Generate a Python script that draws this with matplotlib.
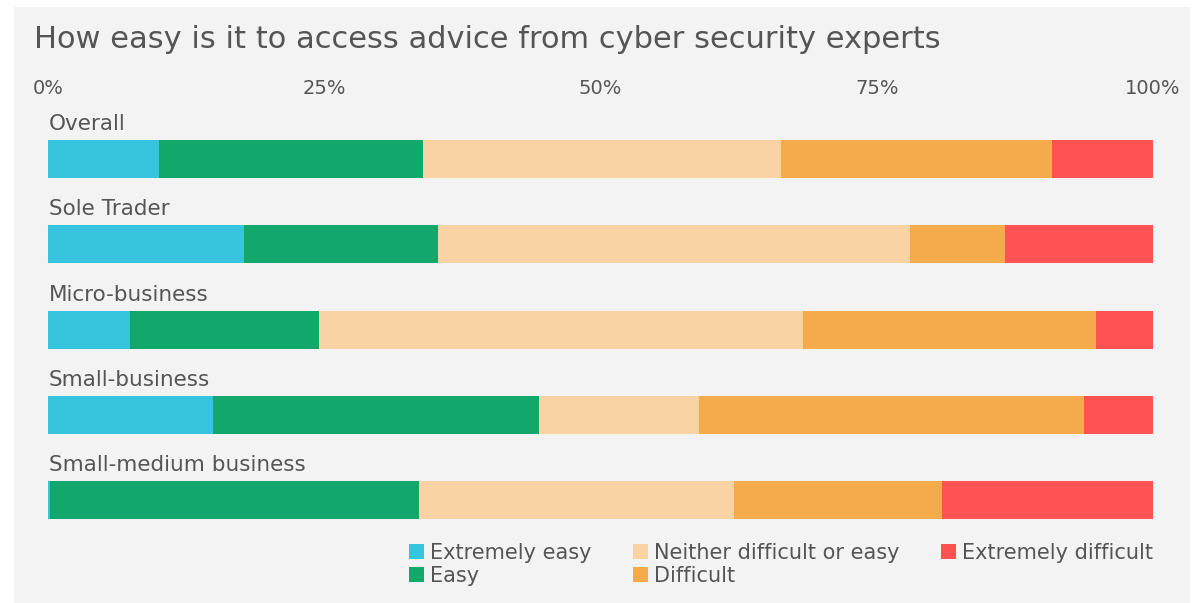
import matplotlib
matplotlib.use("Agg")
import matplotlib.pyplot as plt
from matplotlib.patches import Rectangle

plt.rcParams['font.family'] = ['DejaVu Sans']

# Data
groups = ["Overall", "Sole Trader", "Micro-business", "Small-business", "Small-medium business"]
series = ["Extremely easy", "Easy", "Neither difficult or easy", "Difficult", "Extremely difficult"]
extremely_easy = [10.0, 17.7, 7.4, 14.9, 0.2]
easy = [23.9, 17.6, 17.1, 29.5, 33.4]
neither = [32.4, 42.7, 43.8, 14.5, 28.5]
difficult = [24.6, 8.6, 26.5, 34.9, 18.8]
extremely_difficult = [9.1, 13.4, 5.2, 6.2, 19.1]
colors = ["#36c5dc", "#13a86b", "#fad3a4", "#f5ab4c", "#fe5151"]
ticks = [0, 25, 50, 75, 100]
tick_labels = ["0%", "25%", "50%", "75%", "100%"]

text_color = "#555555"

fig = plt.figure(figsize=(11.98, 6.03), dpi=100)
fig.patch.set_facecolor("white")
fig.patches.append(Rectangle((14 / 1198, 0), 1176 / 1198, 596 / 603,
                             transform=fig.transFigure, facecolor="#f3f3f3",
                             edgecolor="none", zorder=-10))

ax = fig.add_axes([48 / 1198, 0.100, 1105 / 1198, 0.707])
ax.set_facecolor("none")

values = [extremely_easy, easy, neither, difficult, extremely_difficult]
bar_h = 0.445
left = [0] * len(groups)
for name, vals, c in zip(series, values, colors):
    ax.barh(range(len(groups)), vals, left=left, height=bar_h, color=c, label=name)
    left = [l + v for l, v in zip(left, vals)]

for i, g in enumerate(groups):
    ax.text(0.1, i - bar_h / 2 - 0.07, g, fontsize=15.5, color=text_color,
            ha="left", va="bottom")

ax.set_xlim(0, 100)
ax.set_ylim(4.5, -0.5)
ax.set_yticks([])
ax.xaxis.tick_top()
ax.set_xticks(ticks)
ax.set_xticklabels(tick_labels, fontsize=14, color=text_color)
ax.tick_params(axis="x", length=0, pad=13)
for s in ax.spines.values():
    s.set_visible(False)

fig.text(34 / 1198, 1 - 40 / 603, "How easy is it to access advice from cyber security experts",
         fontsize=22, color=text_color, ha="left", va="center")

leg = ax.legend(loc="upper right", bbox_to_anchor=(1.0, 0.0), ncol=3, frameon=False,
                fontsize=15, handlelength=0.7, handleheight=0.7, handletextpad=0.3,
                columnspacing=2.0, labelspacing=0.15, borderaxespad=0, borderpad=0)
for t in leg.get_texts():
    t.set_color(text_color)

fig.savefig("out.png", dpi=100)
